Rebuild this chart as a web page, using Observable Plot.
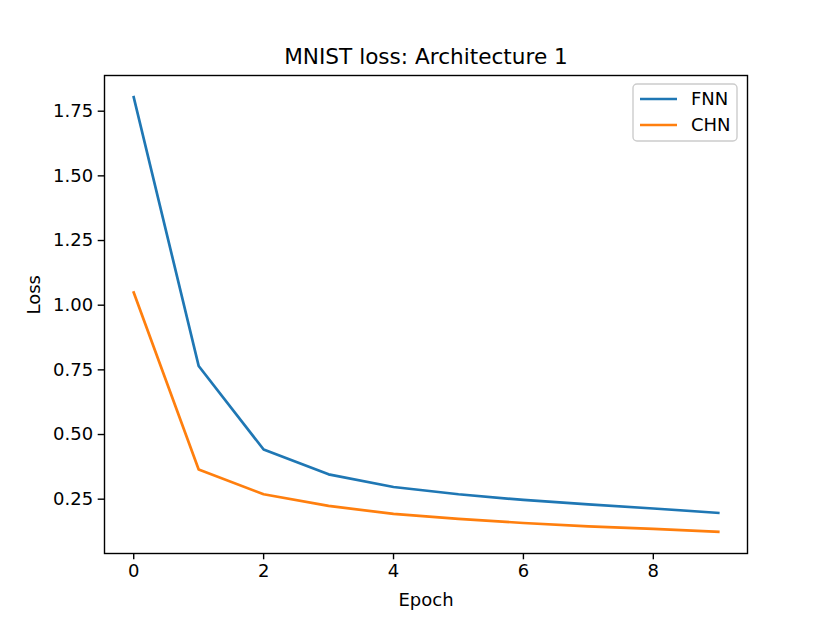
<!DOCTYPE html>
<html>
<head>
<meta charset="utf-8">
<script src="https://cdn.jsdelivr.net/npm/d3@7"></script>
<script src="https://cdn.jsdelivr.net/npm/@observablehq/plot@0.6"></script>
<style>
  html, body { margin: 0; padding: 0; background: #fff; }
  #chart svg { display: block; }
</style>
</head>
<body>
<div id="chart"></div>
<script>
const epochs = [0, 1, 2, 3, 4, 5, 6, 7, 8, 9];
const fnnLoss = [1.804, 0.765, 0.442, 0.346, 0.297, 0.269, 0.247, 0.230, 0.214, 0.197];
const chnLoss = [1.049, 0.365, 0.269, 0.224, 0.193, 0.174, 0.158, 0.145, 0.135, 0.124];
const seriesNames = ["FNN", "CHN"];
const seriesColors = ["#1f77b4", "#ff7f0e"];
const xTicks = [0, 2, 4, 6, 8];
const yTicks = [0.25, 0.50, 0.75, 1.00, 1.25, 1.50, 1.75];
const titleText = "MNIST loss: Architecture 1";
const xLabel = "Epoch";
const yLabel = "Loss";

const data = [];
epochs.forEach((e, i) => {
  data.push({epoch: e, loss: fnnLoss[i], series: seriesNames[0]});
  data.push({epoch: e, loss: chnLoss[i], series: seriesNames[1]});
});

const W = 830, H = 623;
const mL = 104, mR = 83, mT = 75, mB = 70;
const font = "DejaVu Sans, sans-serif";

const svg = Plot.plot({
  width: W,
  height: H,
  marginLeft: mL,
  marginRight: mR,
  marginTop: mT,
  marginBottom: mB,
  style: {fontFamily: font, color: "black", background: "white", overflow: "visible"},
  x: {domain: [-0.45, 9.45], label: null},
  y: {domain: [0.040, 1.888], label: null},
  color: {domain: seriesNames, range: seriesColors},
  marks: [
    Plot.axisX({ticks: xTicks, tickSize: 6.3, tickPadding: 4, strokeWidth: 1.4, fontSize: 18, label: null, tickFormat: d3.format("d")}),
    Plot.axisY({ticks: yTicks, tickSize: 6.3, tickPadding: 5, strokeWidth: 1.4, fontSize: 18, label: null, tickFormat: d3.format(".2f")}),
    Plot.line(data, {x: "epoch", y: "loss", stroke: "series", strokeWidth: 2.7, strokeLinejoin: "round", strokeLinecap: "square"}),
    Plot.frame({stroke: "black", strokeWidth: 1.4}),
    Plot.text([titleText], {frameAnchor: "top", dy: -18, fontSize: 21.6, fill: "black", lineAnchor: "middle"}),
    Plot.text([xLabel], {frameAnchor: "bottom", dy: 47, fontSize: 18, fill: "black", lineAnchor: "middle"}),
    Plot.text([yLabel], {frameAnchor: "left", dx: -70, rotate: -90, fontSize: 18, fill: "black", lineAnchor: "middle"})
  ]
});

// Legend (matplotlib style, upper right)
const g = d3.select(svg).append("g").attr("font-family", font).attr("text-anchor", "start");
const frameRight = W - mR;
const boxW = 104, boxH = 57;
const bx = frameRight - 10 - boxW, by = mT + 9;
g.append("rect")
  .attr("x", bx).attr("y", by).attr("width", boxW).attr("height", boxH)
  .attr("rx", 4).attr("fill", "white").attr("fill-opacity", 0.8)
  .attr("stroke", "#cccccc").attr("stroke-width", 1.4);
seriesNames.forEach((name, i) => {
  const yy = by + 15 + i * 26;
  g.append("line")
    .attr("x1", bx + 7).attr("x2", bx + 44).attr("y1", yy).attr("y2", yy)
    .attr("stroke", seriesColors[i]).attr("stroke-width", 2.7);
  g.append("text")
    .attr("x", bx + 58).attr("y", yy).attr("dy", "0.35em")
    .attr("text-anchor", "start")
    .attr("font-size", 18).attr("fill", "black").text(name);
});

document.getElementById("chart").appendChild(svg);
</script>
</body>
</html>
